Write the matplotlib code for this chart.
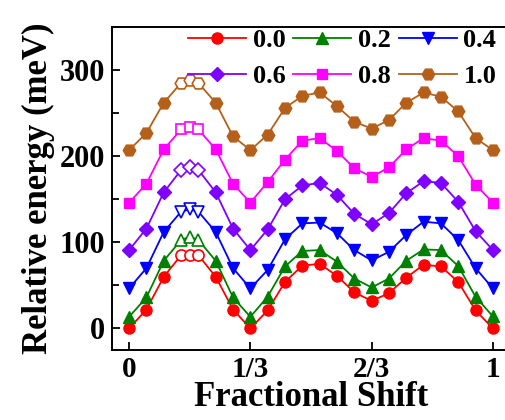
import matplotlib
matplotlib.use("Agg")
import matplotlib.pyplot as plt
from matplotlib.ticker import MultipleLocator, FixedLocator

plt.rcParams['font.family'] = ['Liberation Serif', 'DejaVu Serif']
plt.rcParams['font.weight'] = 'bold'

# fractional shift positions (in units of the full shift)
shift = [0/21, 1/21, 2/21, 3/21, 3.5/21, 4/21, 5/21, 6/21, 7/21,
         8/21, 9/21, 10/21, 11/21, 12/21, 13/21, 14/21,
         15/21, 16/21, 17/21, 18/21, 19/21, 20/21, 21/21]

labels = ['0.0', '0.2', '0.4', '0.6', '0.8', '1.0']

e_00 = [0, 22, 60, 85, 85, 85, 60, 22, 0,
        21, 54, 73, 75, 61, 42, 32,
        41, 59, 74, 72, 54, 21, 0]
e_02 = [13.5, 36, 78.6, 102.7, 106.5, 102.7, 78.6, 36, 13.5,
        37, 72, 90, 91, 77.5, 58, 47.6,
        58, 78.6, 91.8, 91, 72.4, 36.8, 14]
e_04 = [46.5, 70, 112, 135.6, 138.3, 135.6, 112, 70, 46.5,
        68, 103.5, 122, 123, 110.5, 91, 79,
        89, 108.5, 124, 122, 102.7, 70, 46.5]
e_06 = [91, 116, 158, 184, 187, 184, 158, 116, 91,
        115, 150, 166, 169, 155, 133, 121,
        134, 157, 171, 169, 147, 113, 91]
e_08 = [146, 168, 208, 231, 234, 231, 208, 168, 146,
        170, 196, 218, 221, 206, 186, 176,
        187, 208, 221, 218, 200, 167, 146]
e_10 = [207, 227, 262, 285, 288, 285, 262, 223, 207,
        225, 256, 270, 274, 258, 240, 232,
        242, 262, 274, 269, 252, 221, 207]

series = [e_00, e_02, e_04, e_06, e_08, e_10]
colors = ['#FF0000', '#008000', '#0000FF', '#8000FF', '#FF00FF', '#B5601A']
markers = ['o', '^', 'v', 'D', 's', 'H']
msizes = [8, 8.5, 8.5, 7, 7, 9]

open_idx = [3, 4, 5]
filled_idx = [i for i in range(len(shift)) if i not in open_idx]

fig = plt.figure(figsize=(5.05, 4.20), dpi=100)
ax = fig.add_axes([112/505, 70/420, (510-112)/505, (350-27)/420])

handles = []
for y, c, m, ms, lab in zip(series, colors, markers, msizes, labels):
    h, = ax.plot(shift, y, color=c, lw=1.3, marker=m, ms=ms, mfc=c, mec=c,
                 markevery=filled_idx, label=lab, zorder=2)
    ax.plot([shift[i] for i in open_idx], [y[i] for i in open_idx], ls='none',
            marker=m, ms=ms, mfc='white', mec=c, mew=1.2, zorder=3)
    handles.append(h)

ax.set_xlim(-0.047, 1.047)
ax.set_ylim(-25, 350)
ax.xaxis.set_major_locator(FixedLocator([0, 1/3, 2/3, 1]))
ax.set_xticklabels(['0', '1/3', '2/3', '1'])
ax.yaxis.set_major_locator(MultipleLocator(100))
ax.yaxis.set_minor_locator(MultipleLocator(50))
ax.tick_params(axis='both', which='both', direction='in', labelsize=22,
               width=1.3, top=False, right=False)
ax.tick_params(axis='both', which='major', length=6, pad=5)
ax.tick_params(axis='x', which='major', pad=4, labelsize=21)
ax.tick_params(axis='y', which='minor', length=5)
for sp in ax.spines.values():
    sp.set_linewidth(1.4)

ax.set_xlabel('Fractional Shift', fontsize=25, fontweight='bold', labelpad=-1)
ax.set_ylabel('Relative energy (meV)', fontsize=25, fontweight='bold', labelpad=3)

order = [0, 3, 1, 4, 2, 5]
leg = ax.legend([handles[i] for i in order], [labels[i] for i in order],
                ncol=3, loc='upper left', bbox_to_anchor=(188/505, 1 - 29/420),
                bbox_transform=fig.transFigure, frameon=False, fontsize=19,
                handlelength=2.2, handletextpad=0.25, columnspacing=0.3,
                borderpad=0, borderaxespad=0, labelspacing=0.45)

fig.savefig('out.png', dpi=100)
